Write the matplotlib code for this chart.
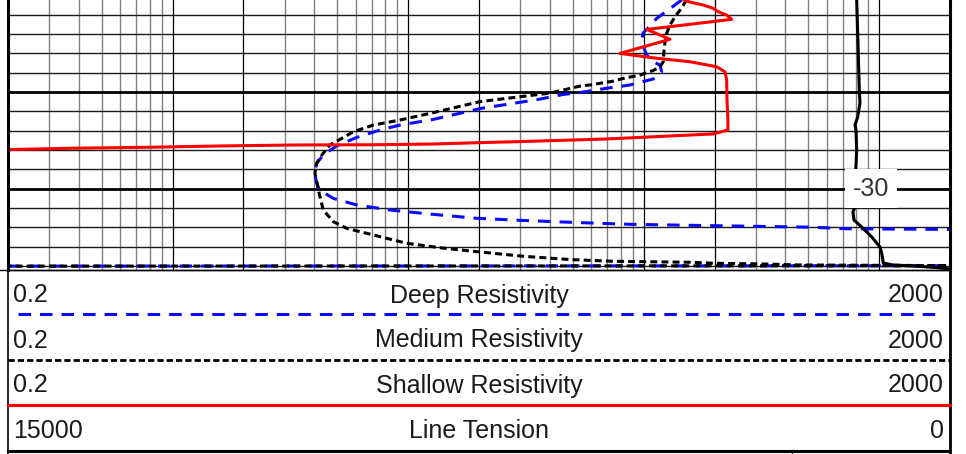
import matplotlib
matplotlib.use("Agg")
import matplotlib.pyplot as plt
from matplotlib.ticker import NullLocator

plt.rcParams['font.family'] = ['Liberation Sans', 'DejaVu Sans']
plt.rcParams['lines.scale_dashes'] = False

# ---------------- data ----------------
res_limits = (0.2, 2000)
tension_limits = (15000, 0)
depth_limits = (-34.20, -20.25)
depth_label = -30

deep_res = [145.1, 127.0, 113.7, 104.4, 99.4, 98.2, 103.1, 109.6, 117.4, 119.3,
            109.9, 87.5, 69.7, 53.7, 45.6, 36.3, 30.8, 20.2, 12.8, 9.24,
            7.59, 6.05, 4.97, 4.36, 4.09, 4.02, 4.06, 4.18, 4.48, 4.81,
            6.05, 8.38, 12.39, 19.55, 30.8, 50.3, 87.5, 197.1, 524, 728,
            2500, 2500, 0.2, 0.2]
deep_depth = [-20.25, -20.77, -21.20, -21.70, -21.96, -22.47, -23.09, -23.44, -23.61, -23.96,
              -24.33, -24.64, -24.81, -25.03, -25.13, -25.37, -25.51, -25.86, -26.42, -26.71,
              -26.97, -27.35, -27.79, -28.26, -28.69, -29.14, -29.55, -30.02, -30.27, -30.50,
              -30.84, -31.10, -31.31, -31.53, -31.64, -31.74, -31.84, -31.91, -31.99, -32.07,
              -32.11, -33.98, -34.00, -34.20]

medium_res = [152.4, 142.8, 135.9, 129.4, 125.3, 123.3, 122.1, 121.2, 117.4, 109.9,
              96.5, 82.0, 74.4, 59.2, 53.7, 40.0, 28.0, 20.2, 12.8, 9.24,
              7.12, 5.85, 5.14, 4.66, 4.30, 4.09, 4.02, 4.16, 4.36, 4.81,
              5.49, 7.12, 9.86, 13.66, 20.2, 30.8, 48.7, 74.4, 157.4, 197.7,
              322.2, 461.4, 2500, 0.2, 0.2]
medium_depth = [-20.25, -20.77, -21.12, -21.54, -21.97, -22.41, -22.84, -23.44, -23.70, -23.89,
                -24.13, -24.30, -24.44, -24.64, -24.70, -25.06, -25.29, -25.50, -26.07, -26.45,
                -26.71, -27.06, -27.45, -27.74, -28.26, -28.69, -29.20, -30.07, -31.10, -31.70,
                -32.05, -32.39, -32.82, -33.05, -33.27, -33.49, -33.66, -33.75, -33.80, -33.85,
                -33.89, -33.94, -33.98, -34.00, -34.20]

shallow_res = [148.9, 157.4, 179.3, 197.7, 207.6, 225.3, 236.6, 103.1, 129.4, 79.4,
               113.7, 157.4, 204.4, 221.6, 225.3, 226, 228, 228, 197.1, 69.9,
               29.0, 20.2, 12.8, 7.1, 3.37, 1.62, 0.78, 0.367, 0.2]
shallow_depth = [-20.25, -20.36, -20.51, -20.68, -20.86, -21.03, -21.25, -21.77, -22.28, -23.01,
                 -23.26, -23.44, -23.70, -23.96, -24.39, -25.42, -26.45, -26.97, -27.17, -27.43,
                 -27.57, -27.62, -27.69, -27.73, -27.74, -27.79, -27.86, -27.91, -27.98]

tension_val = [1486, 1470, 1444, 1433, 1470, 1513, 1497, 1486, 1502, 1486,
               1545, 1529, 1406, 1247, 1115, 1088, 1062, 908, 589, 159, 0]
tension_depth = [-20.25, -21.96, -24.90, -25.57, -26.29, -26.71, -26.97, -28.00, -29.14, -30.74,
                 -31.20, -31.62, -31.98, -32.49, -33.01, -33.32, -33.84, -33.94, -33.99, -34.09,
                 -34.15]

curve_names = ["Deep Resistivity", "Medium Resistivity", "Shallow Resistivity", "Line Tension"]
left_labels = ["0.2", "0.2", "0.2", "15000"]
right_labels = ["2000", "2000", "2000", "0"]

# ---------------- layout ----------------
W, H = 966, 454
X0, X1 = 8, 950
YB = 270
fig = plt.figure(figsize=(W / 100, H / 100), dpi=100)
ax = fig.add_axes([X0 / W, 1 - YB / H, (X1 - X0) / W, YB / H])
ax.set_xscale('log')
ax.set_xlim(*res_limits)
ax.set_ylim(*depth_limits)
ax.xaxis.set_major_locator(NullLocator())
ax.xaxis.set_minor_locator(NullLocator())
ax.yaxis.set_major_locator(NullLocator())
ax.yaxis.set_minor_locator(NullLocator())

# grid
for k in range(-1, 4):
    for m in range(1, 10):
        v = m * 10.0 ** k
        if res_limits[0] * 1.001 < v < res_limits[1] * 0.999:
            if m in (1, 2):
                ax.axvline(v, color='black', lw=0.9, zorder=1)
            else:
                ax.axvline(v, color='#808080', lw=1.0, zorder=1)
for d in range(-34, -20):
    if d % 5 == 0:
        ax.axhline(d, color='black', lw=2.0, zorder=1.2)
    else:
        ax.axhline(d, color='#1a1a1a', lw=1.0, zorder=1.1)

ax.spines['top'].set_visible(False)
ax.spines['left'].set_linewidth(2.2)
ax.spines['right'].set_linewidth(2.2)
ax.spines['bottom'].set_linewidth(1.0)
for s in ax.spines.values():
    s.set_zorder(6)

ax.plot(deep_res, deep_depth, color='#0a0aff', lw=2.2, dashes=(9, 6.5), zorder=3)
ax.plot(medium_res, medium_depth, color='black', lw=2.2, dashes=(5, 3), zorder=3.2)
ax.plot(shallow_res, shallow_depth, color='#ff0000', lw=2.2, zorder=3.4)

ax2 = ax.twiny()
ax2.set_xlim(*tension_limits)
ax2.set_ylim(*depth_limits)
ax2.xaxis.set_major_locator(NullLocator())
ax2.xaxis.set_minor_locator(NullLocator())
for s in ax2.spines.values():
    s.set_visible(False)
ax2.plot(tension_val, tension_depth, color='black', lw=2.2, zorder=3)
ax2.text(0.916, depth_label, str(depth_label), transform=ax2.get_yaxis_transform(),
         ha='center', va='center', fontsize=18, color='#333333', zorder=10,
         bbox=dict(facecolor='white', edgecolor='none', boxstyle='square,pad=0.3'))

# ---------------- header / legend ----------------
lax = fig.add_axes([0, 0, 1, 1])
lax.set_xlim(0, W)
lax.set_ylim(H, 0)
lax.axis('off')
lax.plot([0, X1], [YB, YB], color='black', lw=1.0)
lax.plot([X0, X0], [YB, H], color='black', lw=1.2)
lax.plot([X1, X1], [YB, H], color='black', lw=2.0)
lax.plot([18, 940], [314, 314], color='#0a0aff', lw=2.2, dashes=(9, 6.5))
lax.plot([X0, X1], [359.5, 359.5], color='black', lw=2.0, dashes=(4.5, 2.2))
lax.plot([X0, X1], [405, 405], color='#ff0000', lw=2.2)
lax.plot([X0, X1], [450.5, 450.5], color='black', lw=2.2)
lax.plot([792, 792], [450, H], color='black', lw=1.0)

for i, name in enumerate(curve_names):
    yb = 302.5 + 45 * i
    lax.text(13, yb, left_labels[i], ha='left', va='baseline', fontsize=18, color='#1a1a1a')
    lax.text((X0 + X1) / 2, yb, name, ha='center', va='baseline', fontsize=18, color='#1a1a1a')
    lax.text(944, yb, right_labels[i], ha='right', va='baseline', fontsize=18, color='#1a1a1a')

fig.savefig('out.png', dpi=100)
